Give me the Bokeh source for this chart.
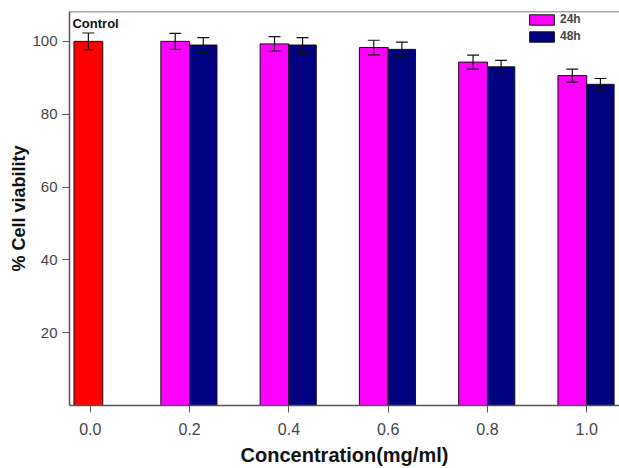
from bokeh.plotting import figure
from bokeh.models import ColumnDataSource, Legend, LegendItem, FixedTicker, Span, Label
from bokeh.embed import file_html
from bokeh.resources import INLINE

# Data
concentrations = [0.2, 0.4, 0.6, 0.8, 1.0]
viability_24h = [100.0, 99.3, 98.3, 94.3, 90.6]
err_24h = [2.2, 2.0, 2.0, 1.9, 1.8]
viability_48h = [99.0, 99.0, 97.8, 93.0, 88.2]
err_48h = [2.0, 2.0, 2.0, 1.8, 1.6]
control_x = [0.0]
control_val = [100.0]
control_err = [2.3]
x_ticks = [0.0, 0.2, 0.4, 0.6, 0.8, 1.0]
y_ticks = [20, 40, 60, 80, 100]

bw = 0.058
FONT = "Liberation Sans"

p = figure(width=619, height=468, output_backend="svg", toolbar_location=None,
           x_range=(-0.042, 1.066), y_range=(0, 108.2),
           min_border_left=69, min_border_right=0, min_border_top=11, min_border_bottom=61)
p.grid.visible = False
p.outline_line_color = None
p.background_fill_color = "white"

def add_bars(xs, vals, errs, offset_left, offset_right, color):
    src = ColumnDataSource(dict(
        left=[x + offset_left for x in xs], right=[x + offset_right for x in xs],
        top=vals, mid=[x + (offset_left + offset_right) / 2 for x in xs],
        lo=[v - e for v, e in zip(vals, errs)], hi=[v + e for v, e in zip(vals, errs)],
        capl=[x + (offset_left + offset_right) / 2 - 0.012 for x in xs],
        capr=[x + (offset_left + offset_right) / 2 + 0.012 for x in xs]))
    r = p.quad(left="left", right="right", bottom=0, top="top", source=src,
               fill_color=color, line_color="#111111", line_width=1)
    p.segment(x0="mid", x1="mid", y0="lo", y1="hi", source=src, line_color="#111111", line_width=1.2)
    p.segment(x0="capl", x1="capr", y0="hi", y1="hi", source=src, line_color="#111111", line_width=1.2)
    p.segment(x0="capl", x1="capr", y0="lo", y1="lo", source=src, line_color="#111111", line_width=1.2)
    return r

add_bars(control_x, control_val, control_err, -bw / 2 - 0.004, bw / 2 - 0.004, "#FF0000")
r24 = add_bars(concentrations, viability_24h, err_24h, -bw, 0, "#FF00FF")
r48 = add_bars(concentrations, viability_48h, err_48h, 0, bw * 0.95, "#000080")

p.add_layout(Span(location=108.2, dimension="width", line_color="#555555", line_width=1.5))

legend = Legend(items=[LegendItem(label="24h", renderers=[r24]),
                       LegendItem(label="48h", renderers=[r48])],
                location=(457, 362), padding=0, spacing=3, margin=0,
                glyph_width=31, glyph_height=13, label_height=13, label_standoff=3,
                border_line_color=None, background_fill_alpha=0,
                label_text_font=FONT, label_text_font_style="bold", label_text_font_size="12px")
p.add_layout(legend)

p.add_layout(Label(x=-0.036, y=102.9, text="Control", text_font=FONT, text_font_style="bold",
                   text_font_size="13px", text_color="#111111"))

for ax in (p.xaxis, p.yaxis):
    ax.axis_line_color = "#555555"
    ax.axis_line_width = 1.5
    ax.major_tick_line_color = "#555555"
    ax.major_tick_out = 7
    ax.major_tick_in = 0
    ax.minor_tick_line_color = None
    ax.major_label_text_font = FONT
    ax.major_label_text_color = "#444444"
    ax.axis_label_text_font = FONT
    ax.axis_label_text_font_style = "bold"
    ax.axis_label_text_color = "#111111"

p.xaxis.ticker = FixedTicker(ticks=x_ticks)
p.xaxis.major_label_overrides = {t: f"{t:.1f}" for t in x_ticks}
p.yaxis.ticker = FixedTicker(ticks=y_ticks)
p.xaxis.axis_label = "Concentration(mg/ml)"
p.yaxis.axis_label = "% Cell viability"
p.xaxis.major_label_text_font_size = "16px"
p.yaxis.major_label_text_font_size = "15px"
p.xaxis.axis_label_text_font_size = "20px"
p.yaxis.axis_label_text_font_size = "18px"
p.xaxis.major_label_standoff = 10
p.xaxis.axis_label_standoff = 6
p.yaxis.major_label_standoff = 5
p.yaxis.axis_label_standoff = 0

open("out.html", "w").write(file_html(p, INLINE))
